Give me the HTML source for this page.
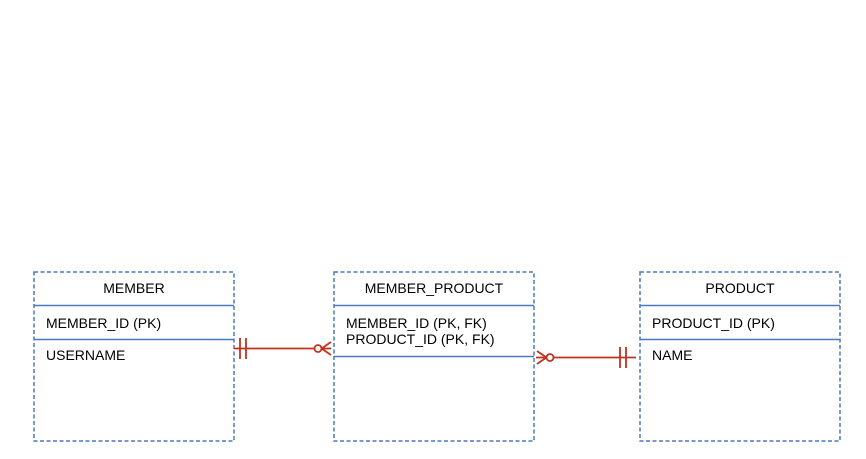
<!DOCTYPE html>
<html><head><style>
html,body{margin:0;padding:0;background:#fff;}
body{width:866px;height:459px;position:relative;overflow:hidden;font-family:"Liberation Sans",sans-serif;}
svg{position:absolute;left:0;top:0;}
</style></head><body>
<svg width="866" height="459" viewBox="0 0 866 459" xmlns="http://www.w3.org/2000/svg" font-family="Liberation Sans, sans-serif" font-size="14" fill="#000">
<g fill="none" stroke="#4a78c2" stroke-width="1.5">
<rect x="34" y="272" width="200" height="169" stroke-dasharray="4 2.5"/>
<rect x="334" y="272" width="200" height="169" stroke-dasharray="4 2.5"/>
<rect x="640" y="272" width="200" height="169" stroke-dasharray="4 2.5"/>
<line x1="34" y1="305.5" x2="234" y2="305.5"/>
<line x1="34" y1="339.5" x2="234" y2="339.5"/>
<line x1="334" y1="305.5" x2="534" y2="305.5"/>
<line x1="334" y1="356.5" x2="534" y2="356.5"/>
<line x1="640" y1="305.5" x2="840" y2="305.5"/>
<line x1="640" y1="339.5" x2="840" y2="339.5"/>
</g>
<text x="134" y="293" text-anchor="middle">MEMBER</text>
<text x="46" y="328">MEMBER_ID (PK)</text>
<text x="46" y="360">USERNAME</text>
<text x="434" y="293" text-anchor="middle">MEMBER_PRODUCT</text>
<text x="346" y="328">MEMBER_ID (PK, FK)</text>
<text x="346" y="344">PRODUCT_ID (PK, FK)</text>
<text x="740" y="293" text-anchor="middle">PRODUCT</text>
<text x="652" y="328">PRODUCT_ID (PK)</text>
<text x="652" y="360">NAME</text>
<g fill="none" stroke="#c0331f" stroke-width="1.8">
<line x1="234" y1="348.5" x2="315" y2="348.5"/>
<line x1="240" y1="338" x2="240" y2="359"/>
<line x1="246" y1="338" x2="246" y2="359"/>
<circle cx="318" cy="348.5" r="3.5" fill="#fff"/>
<line x1="321.5" y1="348.5" x2="331" y2="348.5"/>
<line x1="321.5" y1="348.5" x2="331" y2="342"/>
<line x1="321.5" y1="348.5" x2="331" y2="355"/>
<line x1="554" y1="357.5" x2="636" y2="357.5"/>
<line x1="620" y1="347" x2="620" y2="368"/>
<line x1="626" y1="347" x2="626" y2="368"/>
<circle cx="550" cy="357.5" r="3.5" fill="#fff"/>
<line x1="536" y1="357.5" x2="546.5" y2="357.5"/>
<line x1="537" y1="351" x2="546.5" y2="357.5"/>
<line x1="537" y1="364" x2="546.5" y2="357.5"/>
</g>
</svg>
</body></html>
